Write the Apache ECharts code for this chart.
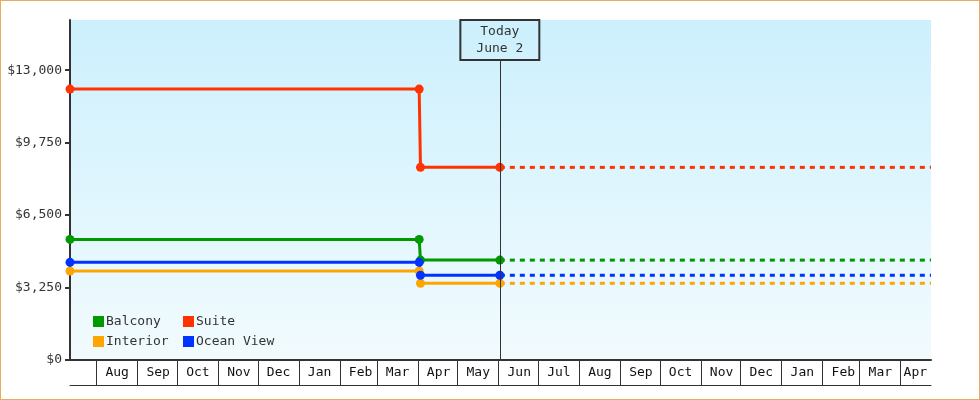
<!DOCTYPE html>
<html>
<head>
<meta charset="utf-8">
<script src="https://cdn.jsdelivr.net/npm/echarts@6/dist/echarts.min.js"></script>
<style>
html,body{margin:0;padding:0;background:#fff;}
#chart{width:980px;height:400px;box-sizing:border-box;border:1px solid #e9aa66;}
</style>
</head>
<body>
<div id="chart"></div>
<script>
// ---- data ----
const seriesNames = ['Balcony', 'Suite', 'Interior', 'Ocean View'];
const seriesColors = ['#009900', '#ff3300', '#ffa500', '#0033ff'];
const priceDates = [[2013, 7, 12], [2014, 4, 2], [2014, 4, 3], [2014, 6, 2]];
const axisStart = [2013, 7, 12];
const axisEnd = [2015, 4, 24];
const todayDate = [2014, 6, 2];
const todayLabel = 'Today\nJune 2';
const balcony = [5410, 5410, 4480, 4480];
const suite = [12150, 12150, 8640, 8640];
const interior = [3990, 3990, 3440, 3440];
const oceanView = [4380, 4380, 3800, 3800];
const monthLabels = ['Jan','Feb','Mar','Apr','May','Jun','Jul','Aug','Sep','Oct','Nov','Dec'];
const yMax = 15250;
const yInterval = 3250;

const ts = d => Date.UTC(d[0], d[1] - 1, d[2]);
const valuesList = [balcony, suite, interior, oceanView];
const tMin = ts(axisStart), tMax = ts(axisEnd), tToday = ts(todayDate);
const lastTick = Date.UTC(axisEnd[0], axisEnd[1] - 1, 1);
const isMonthStart = v => new Date(v).getUTCDate() === 1;

const FONT = 'DejaVu Sans Mono';
const series = [];
valuesList.forEach((vals, i) => {
  series.push({
    name: seriesNames[i], type: 'line', color: seriesColors[i],
    data: priceDates.map((d, k) => [ts(d), vals[k]]),
    symbol: 'circle', symbolSize: 9, showSymbol: true,
    lineStyle: { width: 3, color: seriesColors[i] },
    itemStyle: { color: seriesColors[i] },
    z: 3
  });
});
valuesList.forEach((vals, i) => {
  series.push({
    name: seriesNames[i], type: 'line', color: seriesColors[i],
    data: [[tToday, vals[vals.length - 1]], [tMax, vals[vals.length - 1]]],
    symbol: 'none',
    lineStyle: { width: 3, type: [5, 5], color: seriesColors[i] },
    z: 2
  });
});
// today marker
series.push({
  type: 'line', data: [], silent: true,
  markLine: {
    silent: true, symbol: 'none', animation: false,
    lineStyle: { color: '#333', width: 1, type: 'solid' },
    label: {
      show: true, position: 'end', distance: 0,
      formatter: todayLabel,
      fontFamily: FONT, fontSize: 13, color: '#333', lineHeight: 17,
      align: 'center',
      borderColor: '#333', borderWidth: 1, backgroundColor: 'transparent',
      padding: [3, 16, 3, 16]
    },
    data: [[{ coord: [tToday, 0] }, { coord: [tToday, (300 / 340) * yMax] }]]
  }
});

const chart = echarts.init(document.getElementById('chart'));
chart.setOption({
  animation: false,
  useUTC: true,
  grid: {
    left: 69, right: 48, top: 19, bottom: 39,
    show: true, borderWidth: 0,
    backgroundColor: new echarts.graphic.LinearGradient(0, 0, 0, 1, [
      { offset: 0, color: '#ccf0fd' }, { offset: 1, color: '#f2fbfe' }
    ])
  },
  legend: {
    data: seriesNames, left: 92, top: 314, width: 200, padding: 0,
    orient: 'horizontal', icon: 'rect', itemWidth: 11, itemHeight: 11,
    itemGap: 7,
    textStyle: { fontFamily: FONT, fontSize: 13, color: '#333', width: 70, lineHeight: 13, padding: [0, 0, 0, -3] }
  },
  xAxis: [{
    type: 'time', min: tMin, max: tMax,
    minInterval: 28 * 86400000, maxInterval: 31 * 86400000,
    splitLine: { show: false },
    axisLine: { show: true, lineStyle: { color: '#333', width: 2 } },
    axisTick: { show: true, length: 25, inside: false, lineStyle: { color: '#333', width: 1 } },
    minorTick: { show: false },
    axisLabel: {
      show: true, hideOverlap: false, showMinLabel: false, showMaxLabel: false,
      fontFamily: FONT, fontSize: 13, color: '#111', margin: 6, align: 'left',
      formatter: v => {
        if (!isMonthStart(v)) return '';
        const m = monthLabels[new Date(v).getUTCMonth()];
        return v >= lastTick ? '{b|' + m + '}' : '{a|' + m + '}';
      },
      rich: {
        a: { padding: [0, 0, 0, 9], fontFamily: FONT, fontSize: 13, color: '#111' },
        b: { padding: [0, 0, 0, 3], fontFamily: FONT, fontSize: 13, color: '#111' }
      }
    }
  }, {
    type: 'time', min: tMin, max: tMax, position: 'bottom', offset: 25,
    splitLine: { show: false },
    axisLine: { show: true, lineStyle: { color: '#333', width: 1 } },
    axisTick: { show: false }, axisLabel: { show: false }
  }],
  yAxis: {
    type: 'value', min: 0, max: yMax, interval: yInterval,
    splitLine: { show: false },
    axisLine: { show: true, lineStyle: { color: '#333', width: 2 } },
    axisTick: { show: true, length: 5, lineStyle: { color: '#333', width: 2 } },
    axisLabel: {
      fontFamily: FONT, fontSize: 13, color: '#333', margin: 8,
      showMaxLabel: false,
      formatter: v => (v > 13000 ? '' : '$' + String(v).replace(/\B(?=(\d{3})+(?!\d))/g, ','))
    }
  },
  series: series
});
</script>
</body>
</html>
